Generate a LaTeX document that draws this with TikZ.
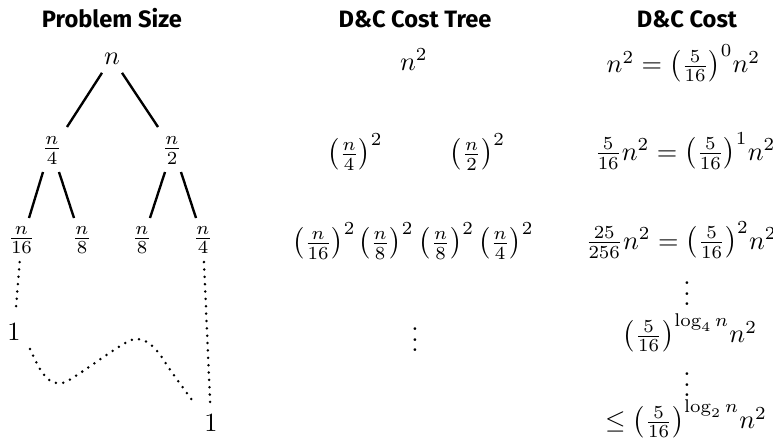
\documentclass[tikz,border=0pt]{standalone}
\usepackage{amsmath}
\usepackage{fontspec}
\newfontfamily\headfont{Fira Sans}
\usetikzlibrary{calc}
\begin{document}
\begin{tikzpicture}[x=0.38pt,y=-0.38pt,
  head/.style={inner sep=0pt,anchor=base,font=\headfont\bfseries\fontsize{9}{10}\selectfont},
  lbl/.style={inner sep=0pt},
  edge/.style={line width=0.9pt},
  dotline/.style={line width=1.05pt,line cap=round,dash pattern=on 0pt off 2.8pt}]
\useasboundingbox (0,0) rectangle (773,439);
% headers
\node[head] (h1) at (112,27.5) {Problem Size};
\node[head] (h2) at (415,27.5) {D\&C Cost Tree};
\node[head] (h3) at (687,27.5) {D\&C Cost};
% problem size tree
\node[lbl,anchor=base] (r) at (112,64) {$n$};
\node[lbl] (a) at (52,150.5) {$\frac{n}{4}$};
\node[lbl] (b) at (172,150.5) {$\frac{n}{2}$};
\node[lbl] (aa) at (21.5,240) {$\frac{n}{16}$};
\node[lbl] (ab) at (82,240) {$\frac{n}{8}$};
\node[lbl] (ba) at (142,240) {$\frac{n}{8}$};
\node[lbl] (bb) at (203,240) {$\frac{n}{4}$};
\node[lbl,anchor=base] (o1) at (14,340) {$1$};
\node[lbl,anchor=base] (o2) at (211,431) {$1$};
\draw[edge] ($(r)+(-10,14.5)$) -- ($(a)+(15,-23.5)$);
\draw[edge] ($(r)+(10,14.5)$) -- ($(b)+(-14,-23.5)$);
\draw[edge] ($(a)+(-9,21.5)$) -- ($(aa)+(7.5,-22)$);
\draw[edge] ($(a)+(7,21.5)$) -- ($(ab)+(-8,-22)$);
\draw[edge] ($(b)+(-7,21.5)$) -- ($(ba)+(8,-22)$);
\draw[edge] ($(b)+(9,21.5)$) -- ($(bb)+(-7,-22)$);
\draw[dotline,shorten <=3pt,shorten >=5.7pt] (aa) -- (o1);
\draw[dotline,shorten <=3pt,shorten >=4.2pt] (bb) -- (o2);
\coordinate (c0) at ($(o1)+(16,17.5)$);
\coordinate (c1) at ($(o2)+(-18,-21)$);
\draw[dotline] plot[smooth,tension=0.6] coordinates {(c0) (40,369) (50,380.7) (60,383) (71,379) (108,354) (127,342) (137,339) (147,342) (158,352) (171,371) (c1)};
% cost tree
\node[lbl,anchor=base] (m1) at (414,70) {$n^2$};
\node[lbl] (m2) at (355,152) {$\left(\frac{n}{4}\right)^2$};
\node[lbl] (m3) at (477.5,152) {$\left(\frac{n}{2}\right)^2$};
\node[lbl] (m4) at (324,241) {$\left(\frac{n}{16}\right)^2$};
\node[lbl] (m5) at (386,241) {$\left(\frac{n}{8}\right)^2$};
\node[lbl] (m6) at (446.5,241) {$\left(\frac{n}{8}\right)^2$};
\node[lbl] (m7) at (506,241) {$\left(\frac{n}{4}\right)^2$};
\node[lbl] (mv) at (415,332) {$\vdots$};
% cost
\node[lbl] (k1) at (683.5,63.5) {$n^2 = \bigl(\frac{5}{16}\bigr)^0 n^2$};
\node[lbl] (k2) at (685,151) {$\frac{5}{16}n^2 = \bigl(\frac{5}{16}\bigr)^1 n^2$};
\node[lbl] (k3) at (681,240) {$\frac{25}{256}n^2 = \bigl(\frac{5}{16}\bigr)^2 n^2$};
\node[lbl] (kv1) at (687,286) {$\vdots$};
\node[lbl] (k4) at (690,333) {$\bigl(\frac{5}{16}\bigr)^{\log_4 n} n^2$};
\node[lbl] (kv2) at (687,377) {$\vdots$};
\node[lbl] (k5) at (686,419) {$\leq \bigl(\frac{5}{16}\bigr)^{\log_2 n} n^2$};
\end{tikzpicture}
\end{document}
